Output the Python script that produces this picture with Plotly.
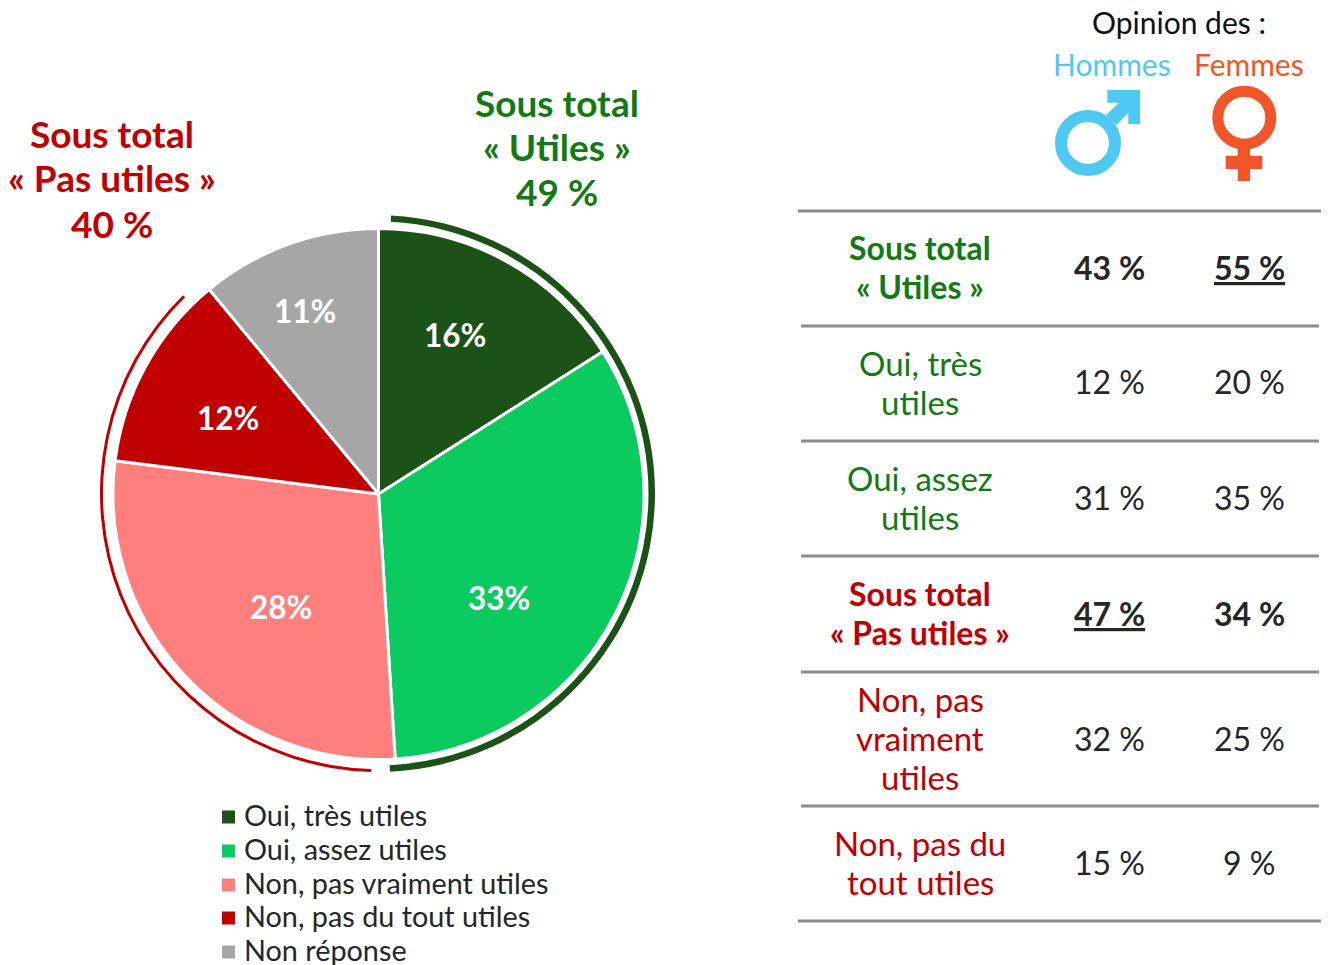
import plotly.graph_objects as go

PAGE_INSET = 8
W, H = 1329 - PAGE_INSET, 965 - PAGE_INSET
FONT = "Lato"

categories = ["Oui, très utiles", "Oui, assez utiles", "Non, pas vraiment utiles", "Non, pas du tout utiles", "Non réponse"]
values = [16, 33, 28, 12, 11]
colors = ["#1C5217", "#0BCB60", "#FF7F7F", "#C00000", "#A6A6A6"]

arc_utiles = [48.4, 51.6]
arc_pas_utiles = [37.2, 62.8]

row_labels = ["Sous total<br>« Utiles »", "Oui, très<br>utiles", "Oui, assez<br>utiles",
              "Sous total<br>« Pas utiles »", "Non, pas<br>vraiment<br>utiles", "Non, pas du<br>tout utiles"]
hommes = ["43 %", "12 %", "31 %", "47 %", "32 %", "15 %"]
femmes = ["55 %", "20 %", "35 %", "34 %", "25 %", "9 %"]
row_bold = [True, False, False, True, False, False]
row_under_h = [False, False, False, True, False, False]
row_under_f = [True, False, False, False, False, False]
row_green = [True, True, True, False, False, False]

GREEN_T = "#137A13"
RED_T = "#C00000"
INK = "#262626"
BLUE = "#4FC8F4"
ORANGE = "#F15628"

def px(x): return (x - PAGE_INSET) / W
def py(y): return 1 - (y - PAGE_INSET) / H
def dom(cx, cy, r):
    return dict(x=[px(cx - r), px(cx + r)], y=[py(cy + r), py(cy - r)])

fig = go.Figure()
fig.add_trace(go.Pie(
    labels=categories, values=values, sort=False, direction="clockwise", rotation=0,
    domain=dom(378.5, 494, 265.5),
    marker=dict(colors=colors, line=dict(color="white", width=3)),
    textinfo="none", hoverinfo="skip", showlegend=False,
))
for arc, rot, col, r, hole, cx in [
    (arc_utiles, 3, "#1C5217", 278.5, 272 / 278.5, 376.5),
    (arc_pas_utiles, 181.5, "#C00000", 278.5, 275.5 / 278.5, 378.5),
]:
    fig.add_trace(go.Pie(
        values=arc, sort=False, direction="clockwise", rotation=rot, hole=hole,
        domain=dom(cx, 493.5, r),
        marker=dict(colors=[col, "rgba(0,0,0,0)"], line=dict(width=0)),
        textinfo="none", hoverinfo="skip", showlegend=False,
    ))

shapes, ann = [], []

def text(x, y, s, size, color, weight=400, anchor="center", gap=None):
    lines = s.split("<br>")
    gap = gap or size * 1.25
    top = y - gap * (len(lines) - 1) / 2
    for k, line in enumerate(lines):
        ann.append(dict(x=px(x), y=py(top + k * gap), xref="paper", yref="paper", text=line, showarrow=False,
                        xanchor=anchor, yanchor="middle", align="center",
                        font=dict(family=FONT, size=size, color=color, weight=weight)))

text(557, 146.5, "Sous total<br>« Utiles »<br>49 %", 37, GREEN_T, 700, gap=44.5)
text(112, 178, "Sous total<br>« Pas utiles »<br>40 %", 37, RED_T, 700, gap=45)
text(1179, 22.5, "Opinion des :", 30, "#111111")
text(1112, 64, "Hommes", 30, BLUE)
text(1249, 64, "Femmes", 30, ORANGE)

slice_label_xy = [(455, 335), (499, 598), (281, 607), (228, 418), (305, 311)]
for v, (x, y) in zip(values, slice_label_xy):
    text(x, y, f"{v}%", 31.5, "white", 700)

row_y = [267, 382, 497, 613, 738, 862]
for i, y in enumerate(row_y):
    col = GREEN_T if row_green[i] else RED_T
    w = 700 if row_bold[i] else 400
    text(920, y, row_labels[i], 32 if row_bold[i] else 33, col, w, gap=39)
    h = f"<u>{hommes[i]}</u>" if row_under_h[i] else hommes[i]
    f = f"<u>{femmes[i]}</u>" if row_under_f[i] else femmes[i]
    text(1109, y, h, 32, INK, w)
    text(1249, y, f, 32, INK, w)

for y, x0, x1 in [(211, 798, 1321), (326, 801, 1319), (441, 801, 1319), (556, 801, 1319),
                  (672, 801, 1319), (806, 801, 1319), (921, 798, 1321)]:
    shapes.append(dict(type="line", xref="paper", yref="paper", x0=px(x0), x1=px(x1), y0=py(y), y1=py(y),
                       line=dict(color="#8C8C8C", width=3)))

legend_y = [817, 851, 885, 918, 952]
for name, col, y in zip(categories, colors, legend_y):
    shapes.append(dict(type="rect", xref="paper", yref="paper", x0=px(222), x1=px(235),
                       y0=py(y + 6.5), y1=py(y - 6.5), line=dict(width=0), fillcolor=col))
    text(242, y - 2, name, 28.8, INK, anchor="left")

def poly(pts):
    return "M" + "L".join(f"{px(x):.5f},{py(y):.5f}" for x, y in pts) + "Z"

def circle(cx, cy, r, w, col):
    shapes.append(dict(type="circle", xref="paper", yref="paper", x0=px(cx - r), x1=px(cx + r),
                       y0=py(cy + r), y1=py(cy - r), line=dict(color=col, width=w), fillcolor="rgba(0,0,0,0)"))

circle(1088, 143, 27, 12, BLUE)
shapes.append(dict(type="path", xref="paper", yref="paper", line=dict(width=0), fillcolor=BLUE,
                   path=poly([(1107.3, 90), (1140, 90), (1140, 124), (1128.3, 124), (1128.3, 112.7),
                              (1116.7, 125), (1106, 115), (1119, 102.7), (1107.3, 102.7)])))
circle(1244.3, 117.7, 26.5, 11, ORANGE)
shapes.append(dict(type="path", xref="paper", yref="paper", line=dict(width=0), fillcolor=ORANGE,
                   path=poly([(1237.7, 147), (1250, 147), (1250, 155.7), (1262.3, 155.7), (1262.3, 169),
                              (1250, 169), (1250, 181), (1237.7, 181), (1237.7, 169), (1225.7, 169),
                              (1225.7, 155.7), (1237.7, 155.7)])))

fig.update_layout(
    width=W, height=H, margin=dict(l=0, r=0, t=0, b=0),
    paper_bgcolor="white", plot_bgcolor="white",
    shapes=shapes, annotations=ann, showlegend=False,
    font=dict(family=FONT),
)
fig.write_html("out.html")
